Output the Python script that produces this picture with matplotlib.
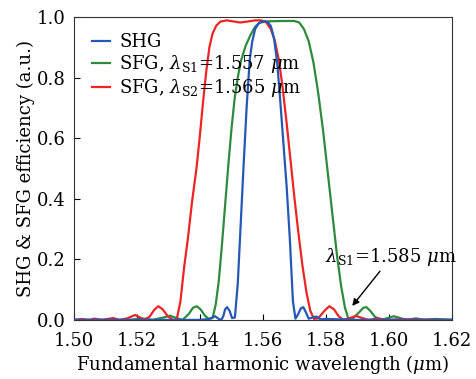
import matplotlib
matplotlib.use("Agg")
import matplotlib.pyplot as plt

# ---------------- data ----------------
shg_x = [1.500, 1.540, 1.5430, 1.5448, 1.5460, 1.5468, 1.5474, 1.5480, 1.5486, 1.5494,
         1.5502, 1.5511, 1.5520, 1.5530, 1.5538, 1.5548, 1.5558, 1.5566, 1.5575, 1.5585,
         1.5595, 1.5605, 1.5615, 1.5625, 1.5635, 1.5645, 1.5655, 1.5665, 1.5675, 1.5685,
         1.5695, 1.5703, 1.5712, 1.5720, 1.5728, 1.5736, 1.5745, 1.5758, 1.5770, 1.5782,
         1.5800, 1.5900, 1.620]
shg_y = [0.0, 0.0, 0.003, 0.012, 0.003, 0.0, 0.012, 0.035, 0.042, 0.030,
         0.006, 0.008, 0.12, 0.33, 0.50, 0.70, 0.86, 0.92, 0.96, 0.978,
         0.984, 0.986, 0.984, 0.97, 0.93, 0.85, 0.72, 0.58, 0.44, 0.27,
         0.06, 0.004, 0.02, 0.038, 0.042, 0.025, 0.004, 0.008, 0.011, 0.002,
         0.003, 0.0, 0.0]

sfg1_x = [1.500, 1.518, 1.5215, 1.5250, 1.5285, 1.5305, 1.5325, 1.5345, 1.5365, 1.5378,
          1.5390, 1.5402, 1.5415, 1.5428, 1.5440, 1.5450, 1.5460, 1.5470, 1.5480, 1.5490,
          1.5500, 1.5510, 1.5520, 1.5530, 1.5545, 1.5560, 1.5575, 1.5590, 1.5620, 1.5660,
          1.5700, 1.5715, 1.5730, 1.5745, 1.5760, 1.5775, 1.5790, 1.5805, 1.5820, 1.5835,
          1.5848, 1.5860, 1.5871, 1.5885, 1.5905, 1.5918, 1.5928, 1.5940, 1.5955, 1.5975,
          1.5995, 1.6015, 1.6035, 1.6055, 1.6085, 1.6110, 1.6145, 1.620]
sfg1_y = [0.0, 0.0, 0.005, 0.0, 0.008, 0.014, 0.006, 0.0, 0.02, 0.04,
          0.045, 0.035, 0.015, 0.003, 0.006, 0.05, 0.13, 0.25, 0.38, 0.51,
          0.63, 0.73, 0.80, 0.855, 0.905, 0.94, 0.968, 0.982, 0.986, 0.987,
          0.987, 0.982, 0.96, 0.92, 0.85, 0.75, 0.63, 0.49, 0.35, 0.21,
          0.11, 0.04, 0.003, 0.005, 0.025, 0.04, 0.042, 0.03, 0.01, 0.0,
          0.006, 0.012, 0.006, 0.0, 0.005, 0.0, 0.003, 0.0]

sfg2_x = [1.500, 1.5025, 1.5050, 1.5065, 1.5090, 1.5125, 1.5145, 1.5170, 1.5185, 1.5195,
          1.5207, 1.5222, 1.5240, 1.5255, 1.5268, 1.5282, 1.5298, 1.5315, 1.5326, 1.5338,
          1.5350, 1.5362, 1.5375, 1.5389, 1.5400, 1.5410, 1.5420, 1.5430, 1.5440, 1.5452,
          1.5465, 1.5485, 1.5510, 1.5527, 1.5550, 1.5575, 1.5595, 1.5610, 1.5625, 1.5638,
          1.5650, 1.5662, 1.5675, 1.5688, 1.5700, 1.5712, 1.5725, 1.5738, 1.5750, 1.5762,
          1.5775, 1.5795, 1.5810, 1.5825, 1.5840, 1.5855, 1.5875, 1.5895, 1.5915, 1.5935,
          1.5965, 1.5990, 1.6035, 1.620]
sfg2_y = [0.0, 0.003, 0.0, 0.004, 0.0, 0.006, 0.0, 0.005, 0.012, 0.016,
          0.010, 0.0, 0.010, 0.033, 0.045, 0.035, 0.012, 0.0, 0.0, 0.06,
          0.174, 0.27, 0.39, 0.50, 0.61, 0.72, 0.82, 0.90, 0.945, 0.972,
          0.985, 0.989, 0.985, 0.982, 0.985, 0.989, 0.989, 0.983, 0.96, 0.92,
          0.86, 0.77, 0.65, 0.52, 0.40, 0.29, 0.18, 0.09, 0.03, 0.003,
          0.005, 0.03, 0.045, 0.035, 0.012, 0.0, 0.006, 0.013, 0.006, 0.0,
          0.005, 0.0, 0.002, 0.0]

labels = ['SHG',
          r'SFG, $\lambda_{\mathrm{S1}}$=1.557 $\mu$m',
          r'SFG, $\lambda_{\mathrm{S2}}$=1.565 $\mu$m']
xticks = [1.50, 1.52, 1.54, 1.56, 1.58, 1.60, 1.62]
yticks = [0.0, 0.2, 0.4, 0.6, 0.8, 1.0]
annot_text = r'$\lambda_{\mathrm{S1}}$=1.585 $\mu$m'
annot_point = (1.5883, 0.046)
annot_textpos = (1.5797, 0.17)

# ---------------- plotting ----------------
plt.rcParams['font.family'] = ['DejaVu Serif']
plt.rcParams['mathtext.fontset'] = 'dejavuserif'
plt.rcParams['font.size'] = 13

fig = plt.figure(figsize=(4.76, 3.79), dpi=100)
ax = fig.add_axes([0.155, 0.156, 0.795, 0.799])

ax.plot(shg_x, shg_y, color='#2557b5', lw=1.6, label=labels[0], zorder=3)
ax.plot(sfg1_x, sfg1_y, color='#2e8a3c', lw=1.6, label=labels[1], zorder=2)
ax.plot(sfg2_x, sfg2_y, color='#ee2424', lw=1.6, label=labels[2], zorder=2.5)

ax.set_xlim(1.50, 1.62)
ax.set_ylim(0.0, 1.0)
ax.set_xticks(xticks)
ax.set_xticklabels([f'{v:.2f}' for v in xticks])
ax.set_yticks(yticks)
ax.set_yticklabels([f'{v:.1f}' for v in yticks])
ax.tick_params(direction='in', length=4, width=0.8, labelsize=13)
ax.tick_params(axis='x', pad=9)
ax.tick_params(axis='y', pad=6)
for s in ax.spines.values():
    s.set_linewidth(0.8)
    s.set_color('#333333')

ax.set_xlabel(r'Fundamental harmonic wavelength ($\mu$m)', fontsize=13, labelpad=2)
ax.set_ylabel('SHG & SFG efficiency (a.u.)', fontsize=13, labelpad=1)

leg = ax.legend(loc='upper left', bbox_to_anchor=(0.03, 0.97), frameon=False,
                handlelength=1.0, handletextpad=0.5, labelspacing=0.1,
                fontsize=13, borderaxespad=0)

ax.annotate(annot_text, xy=annot_point, xytext=annot_textpos, fontsize=13,
            arrowprops=dict(arrowstyle='-|>', color='black', lw=1.0,
                            mutation_scale=10, shrinkA=0, shrinkB=0),
            ha='left', va='bottom')

fig.savefig('out.png', dpi=100)
